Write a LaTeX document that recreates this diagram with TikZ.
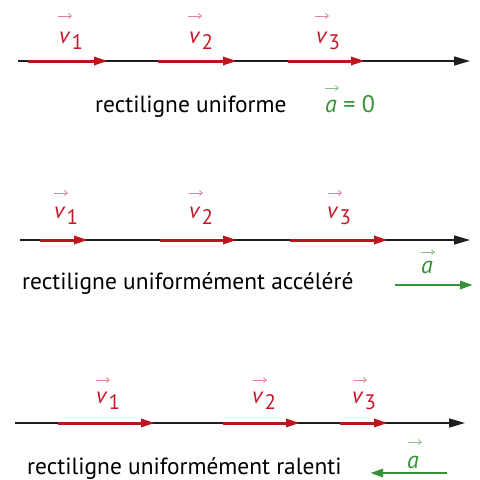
\documentclass[tikz,border=0pt]{standalone}
\usepackage{fontspec}
\setmainfont{PT Sans}
\usetikzlibrary{arrows.meta}
\definecolor{vred}{RGB}{195,25,40}
\definecolor{vline}{RGB}{190,20,30}
\definecolor{vpink}{RGB}{225,130,150}
\definecolor{agreen}{RGB}{55,145,55}
\definecolor{agreenl}{RGB}{140,190,140}
\definecolor{axisc}{RGB}{30,30,30}
\newcommand\vsub[1]{\textit{v}\kern0.8pt\raisebox{-6.5pt}{\fontsize{21}{21}\selectfont #1}}
\tikzset{
  axisline/.style={draw=axisc, line width=1.5pt, -{Triangle[length=16pt,width=9pt]}},
  vel/.style={draw=vline, line width=3pt, -{Triangle[length=14pt,width=8pt]}},
  acc/.style={draw=agreen, line width=2.8pt, -{Triangle[length=13pt,width=8pt]}},
  tinyarr/.style={draw=vpink, line width=0.8pt, -{Straight Barb[length=3pt,width=5pt]}},
  tinyg/.style={draw=agreenl, line width=0.8pt, -{Straight Barb[length=3pt,width=5pt]}},
  vlab/.style={anchor=base west, inner sep=0pt, text=vred, font=\fontsize{23}{23}\selectfont},
  alab/.style={anchor=base west, inner sep=0pt, text=agreen, font=\fontsize{24}{24}\selectfont},
  captxt/.style={anchor=base west, inner sep=0pt, text=black, font=\fontsize{23.4}{23.4}\selectfont}
}
\begin{document}
\begin{tikzpicture}[x=1pt,y=-1pt]
\useasboundingbox[fill=white] (0,0) rectangle (480,480);
% ---------- panel 1 ----------
\coordinate (p1s) at (18,61); \coordinate (p1e) at (470,61);
\draw[axisline] (p1s) -- (p1e);
\coordinate (p1a1) at (28,61); \coordinate (p1b1) at (108,61);
\coordinate (p1a2) at (158,61); \coordinate (p1b2) at (237,61);
\coordinate (p1a3) at (288,61); \coordinate (p1b3) at (365,61);
\draw[vel] (p1a1) -- (p1b1);
\draw[vel] (p1a2) -- (p1b2);
\draw[vel] (p1a3) -- (p1b3);
\node[vlab] (p1v1) at (59,43) {\vsub{1}};
\node[vlab] (p1v2) at (189,43) {\vsub{2}};
\node[vlab] (p1v3) at (316,43) {\vsub{3}};
\coordinate (p1t1s) at (58,16); \coordinate (p1t1e) at (72,16);
\coordinate (p1t2s) at (188,16); \coordinate (p1t2e) at (202,16);
\coordinate (p1t3s) at (315,16); \coordinate (p1t3e) at (329,16);
\draw[tinyarr] (p1t1s) -- (p1t1e);
\draw[tinyarr] (p1t2s) -- (p1t2e);
\draw[tinyarr] (p1t3s) -- (p1t3e);
\node[captxt] (p1txt) at (95,112) {rectiligne uniforme};
\node[alab] (p1a) at (325,112) {\textit{a} = 0};
\coordinate (p1tas) at (325,88); \coordinate (p1tae) at (339,88);
\draw[tinyg] (p1tas) -- (p1tae);
% ---------- panel 2 ----------
\coordinate (p2s) at (20,240); \coordinate (p2e) at (470,240);
\draw[axisline] (p2s) -- (p2e);
\coordinate (p2a1) at (40,240); \coordinate (p2b1) at (88,240);
\coordinate (p2a2) at (160,240); \coordinate (p2b2) at (237,240);
\coordinate (p2a3) at (290,240); \coordinate (p2b3) at (388,240);
\draw[vel] (p2a1) -- (p2b1);
\draw[vel] (p2a2) -- (p2b2);
\draw[vel] (p2a3) -- (p2b3);
\node[vlab] (p2v1) at (54,218) {\vsub{1}};
\node[vlab] (p2v2) at (189,218) {\vsub{2}};
\node[vlab] (p2v3) at (327,218) {\vsub{3}};
\coordinate (p2t1s) at (54,193); \coordinate (p2t1e) at (68,193);
\coordinate (p2t2s) at (189,193); \coordinate (p2t2e) at (203,193);
\coordinate (p2t3s) at (328,193); \coordinate (p2t3e) at (342,193);
\draw[tinyarr] (p2t1s) -- (p2t1e);
\draw[tinyarr] (p2t2s) -- (p2t2e);
\draw[tinyarr] (p2t3s) -- (p2t3e);
\node[captxt] (p2txt) at (22,289) {rectiligne uniformément accéléré};
\coordinate (p2ga) at (395,285); \coordinate (p2gb) at (473,285);
\draw[acc] (p2ga) -- (p2gb);
\node[alab] (p2a) at (421,273) {\textit{a}};
\coordinate (p2tas) at (421,252); \coordinate (p2tae) at (435,252);
\draw[tinyg] (p2tas) -- (p2tae);
% ---------- panel 3 ----------
\coordinate (p3s) at (15,423); \coordinate (p3e) at (465,423);
\draw[axisline] (p3s) -- (p3e);
\coordinate (p3a1) at (58,423); \coordinate (p3b1) at (155,423);
\coordinate (p3a2) at (223,423); \coordinate (p3b2) at (300,423);
\coordinate (p3a3) at (340,423); \coordinate (p3b3) at (388,423);
\draw[vel] (p3a1) -- (p3b1);
\draw[vel] (p3a2) -- (p3b2);
\draw[vel] (p3a3) -- (p3b3);
\node[vlab] (p3v1) at (96,403) {\vsub{1}};
\node[vlab] (p3v2) at (252,403) {\vsub{2}};
\node[vlab] (p3v3) at (352,403) {\vsub{3}};
\coordinate (p3t1s) at (96,380); \coordinate (p3t1e) at (110,380);
\coordinate (p3t2s) at (253,380); \coordinate (p3t2e) at (267,380);
\coordinate (p3t3s) at (353,380); \coordinate (p3t3e) at (367,380);
\draw[tinyarr] (p3t1s) -- (p3t1e);
\draw[tinyarr] (p3t2s) -- (p3t2e);
\draw[tinyarr] (p3t3s) -- (p3t3e);
\node[captxt] (p3txt) at (27,474) {rectiligne uniformément ralenti};
\coordinate (p3ga) at (447,473); \coordinate (p3gb) at (370,473);
\draw[acc] (p3ga) -- (p3gb);
\node[alab] (p3a) at (407,468) {\textit{a}};
\coordinate (p3tas) at (408,442); \coordinate (p3tae) at (422,442);
\draw[tinyg] (p3tas) -- (p3tae);
\end{tikzpicture}
\end{document}
